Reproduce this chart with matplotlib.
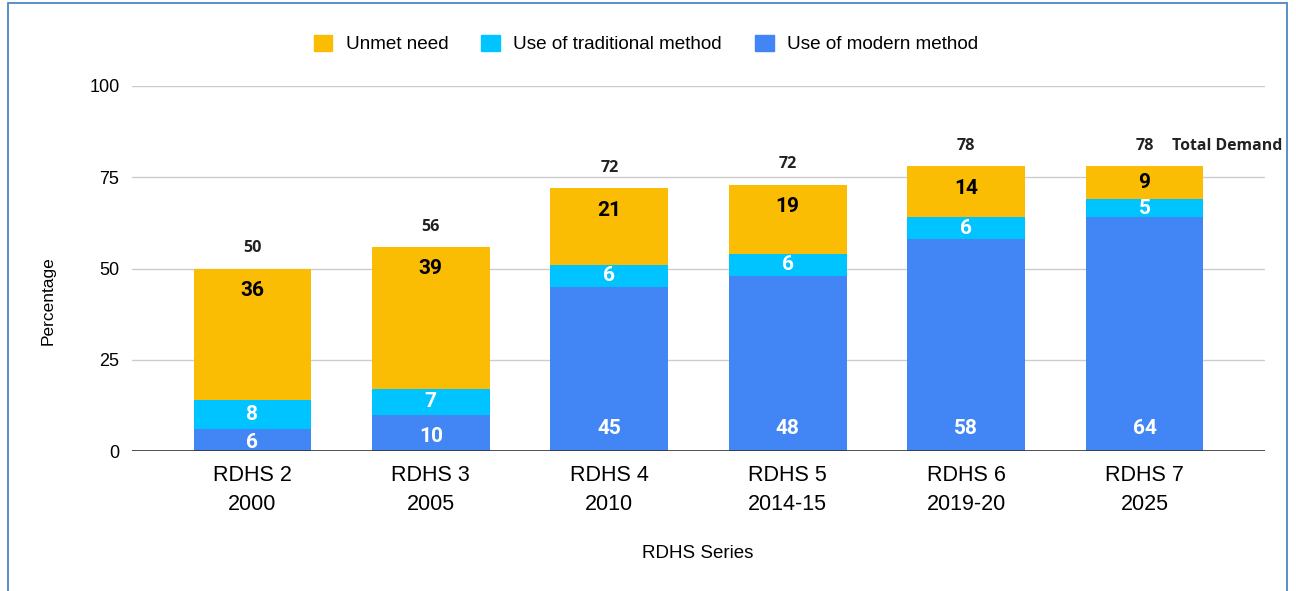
import matplotlib.pyplot as plt
from matplotlib.patches import Rectangle, Patch
import numpy as np

# Data
categories = ["RDHS 2\n2000", "RDHS 3\n2005", "RDHS 4\n2010",
              "RDHS 5\n2014-15", "RDHS 6\n2019-20", "RDHS 7\n2025"]
modern = [6, 10, 45, 48, 58, 64]
traditional = [8, 7, 6, 6, 6, 5]
unmet = [36, 39, 21, 19, 14, 9]
total_demand = [50, 56, 72, 72, 78, 78]
yticks = [0, 25, 50, 75, 100]

c_unmet = "#fbbc04"
c_trad = "#00c4ff"
c_modern = "#4285f4"
seg_font = ["Roboto", "DejaVu Sans"]
total_font = ["Open Sans", "DejaVu Sans"]
tick_font = ["Liberation Sans", "DejaVu Sans"]

fig = plt.figure(figsize=(12.96, 5.91), dpi=100)
ax = fig.add_axes([132 / 1296, 1 - 451 / 591, (1265 - 132) / 1296, (451 - 86) / 591])

x = np.arange(len(categories))
w = 0.66
bottom_trad = np.array(modern)
bottom_unmet = bottom_trad + np.array(traditional)
tops = bottom_unmet + np.array(unmet)

ax.bar(x, modern, w, color=c_modern, zorder=2)
ax.bar(x, traditional, w, bottom=bottom_trad, color=c_trad, zorder=2)
ax.bar(x, unmet, w, bottom=bottom_unmet, color=c_unmet, zorder=2)

# segment labels
for i in range(len(x)):
    ax.text(x[i], min(modern[i] * 0.4, 6.3), str(modern[i]), ha="center", va="center",
            color="white", fontsize=15, fontweight="bold", family=seg_font, zorder=4)
    ax.text(x[i], bottom_trad[i] + traditional[i] / 2, str(traditional[i]), ha="center",
            va="center", color="white", fontsize=15, fontweight="bold", family=seg_font, zorder=4)
    ax.text(x[i], tops[i] - min(6, unmet[i] / 2), str(unmet[i]), ha="center", va="center",
            color="black", fontsize=15, fontweight="bold", family=seg_font, zorder=4)
    ax.text(x[i], tops[i] + 5.5, str(total_demand[i]), ha="center", va="center",
            color="#222222", fontsize=11.6, fontweight="bold", family=total_font,
            zorder=4, clip_on=False)

ax.annotate("Total Demand", xy=(x[-1], tops[-1] + 5.5), xytext=(20, 0),
            textcoords="offset points", ha="left", va="center", color="#222222",
            fontsize=11.4, fontweight="bold", family=total_font, annotation_clip=False)

ax.set_xlim(-0.675, len(x) - 0.325)
ax.set_ylim(0, 100)
ax.set_yticks(yticks)
ax.set_xticks(x)
ax.set_xticklabels(categories, family=tick_font, fontsize=15.5, linespacing=1.5)
for lbl in ax.get_yticklabels():
    lbl.set_family(tick_font)
ax.tick_params(axis="y", length=0, labelsize=13, pad=9)
ax.tick_params(axis="x", length=0, pad=10)
ax.grid(axis="y", color="#cccccc", lw=1, zorder=0)
ax.axhline(0, color="#333333", lw=1.2, zorder=3)
for s in ax.spines.values():
    s.set_visible(False)

fig.text(698 / 1296, 1 - 553 / 591, "RDHS Series", ha="center", va="center",
         fontsize=13.5, family=tick_font)
fig.text(48 / 1296, 1 - 301 / 591, "Percentage", ha="center", va="center",
         rotation=90, fontsize=12.5, family=tick_font)

handles = [Patch(color=c_unmet, label="Unmet need"),
           Patch(color=c_trad, label="Use of traditional method"),
           Patch(color=c_modern, label="Use of modern method")]
fig.legend(handles=handles, loc="center", bbox_to_anchor=(646 / 1296, 1 - 44 / 591),
           ncol=3, frameon=False, prop={"family": tick_font, "size": 13.6},
           handlelength=1.0, handleheight=1.0, handletextpad=0.7, columnspacing=1.75)

# outer frame
fig.patches.append(Rectangle((8 / 1296, -0.1), (1287 - 8) / 1296, 1.1 - 3 / 591,
                             transform=fig.transFigure, fill=False,
                             ec="#4a86c8", lw=1.3))

fig.savefig("out.png", dpi=100)
